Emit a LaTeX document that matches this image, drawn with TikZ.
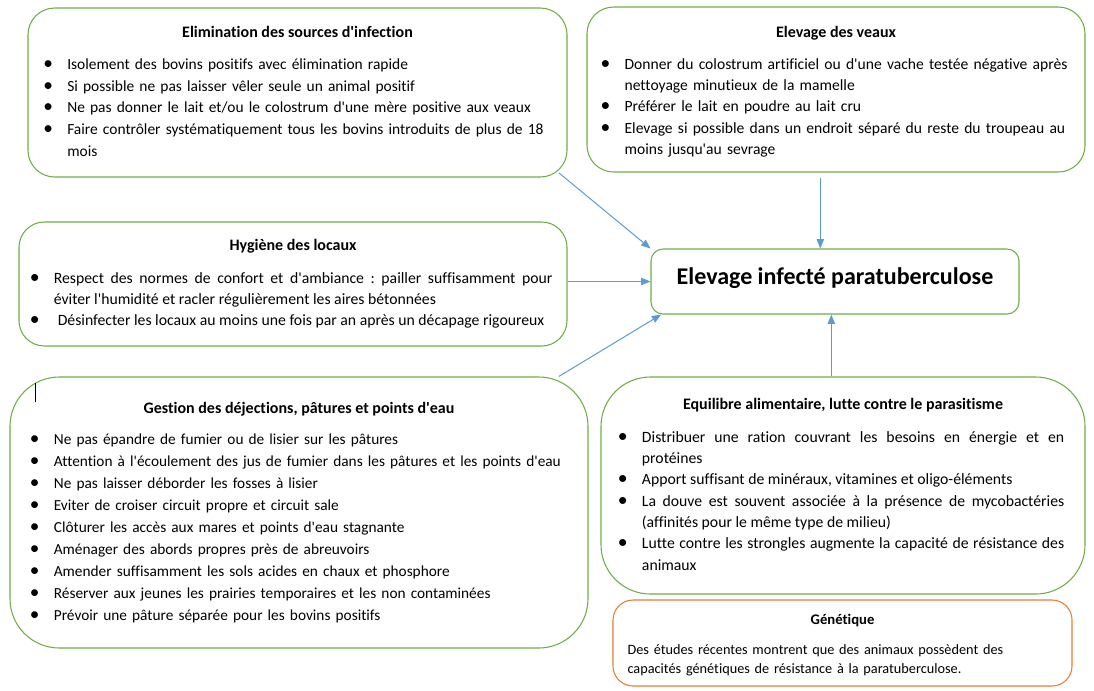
\documentclass[tikz,border=0pt]{standalone}
\usepackage{fontspec}
\setmainfont{Carlito}[Ligatures={TeXOff,CommonOff}]
\usepackage{tikz}
\usetikzlibrary{arrows.meta,calc,fit}
\definecolor{vert}{HTML}{70AD47}
\definecolor{bleu}{HTML}{5B9BD5}
\definecolor{orangeg}{HTML}{ED7D31}
\newcommand{\puce}[1]{\noindent\hangindent=18pt\hangafter=1\makebox[18pt][l]{\scalebox{1.25}{\textbullet}}\strut#1\par}
\tikzstyle{bloc}=[draw=vert, line width=0.8pt, inner sep=0pt, rounded corners=20pt]
\tikzstyle{titre}=[anchor=base, inner sep=0pt, font=\bfseries\fontsize{12}{14}\selectfont]
\tikzstyle{liste}=[anchor=north west, inner sep=0pt, align=left]
\tikzstyle{fleche}=[draw=bleu, line width=0.75pt, -{Triangle[length=7pt,width=5.5pt]}]

\begin{document}
\begin{tikzpicture}[x=0.75pt,y=-0.75pt]
\useasboundingbox (0,0) rectangle (1094,690);
% les cadres
\node[bloc, fit={(28,8) (567,177)}] (elim) {};
\node[bloc, fit={(587,7) (1085,172)}] (veaux) {};
\node[bloc, rounded corners=19pt, fit={(19,222) (567,346)}] (hygiene) {};
\node[bloc, rounded corners=9pt, fit={(651,249) (1019,314)}] (infecte) {};
\node[bloc, rounded corners=37pt, fit={(10,377) (588,648)}] (gestion) {};
\node[bloc, rounded corners=37pt, fit={(601,377) (1085,594)}] (equilibre) {};
\node[bloc, draw=orangeg, rounded corners=15pt, fit={(613,600) (1072,686)}] (genetique) {};

% titres
\node[titre] (t1) at (297.5,37) {Elimination des sources d'infection};
\node[titre] (t2) at (836,37) {Elevage des veaux};
\node[titre] (t3) at (293,250) {Hygiène des locaux};
\node[titre, font=\bfseries\fontsize{18}{21}\selectfont] (t4) at (835,284) {Elevage infecté paratuberculose};
\node[titre] (t5) at (299,413) {Gestion des déjections, pâtures et points d'eau};
\node[titre] (t6) at (843,409) {Equilibre alimentaire, lutte contre le parasitisme};
\node[titre, font=\bfseries\fontsize{11}{13}\selectfont] (t7) at (842.5,624) {Génétique};

% listes
\node[liste, text width=388pt, font={\fontsize{11.6}{16.3}\selectfont\frenchspacing}] (l1) at (43,53.8) {%
\puce{Isolement des bovins positifs avec élimination rapide}
\puce{Si possible ne pas laisser vêler seule un animal positif}
\puce{Ne pas donner le lait et/ou le colostrum d'une mère positive aux veaux}
\puce{Faire contrôler systématiquement tous les bovins introduits de plus de 18 \linebreak mois}};
\node[liste, text width=356pt, font={\fontsize{11.7}{15.94}\selectfont\frenchspacing}] (l2) at (600.3,54.1) {%
\puce{Donner du colostrum artificiel ou d'une vache testée négative après \linebreak nettoyage minutieux de la mamelle}
\puce{Préférer le lait en poudre au lait cru}
\puce{Elevage si possible dans un endroit séparé du reste du troupeau au \linebreak moins jusqu'au sevrage}};
\node[liste, align=justify, text width=392pt, font={\fontsize{11.8}{15.75}\selectfont\frenchspacing}] (l3) at (29.5,268.3) {%
\puce{Respect des normes de confort et d'ambiance : pailler suffisamment pour \linebreak éviter l'humidité et racler régulièrement les aires bétonnées}
\puce{\hspace{3pt}Désinfecter les locaux au moins une fois par an après un décapage rigoureux}};
\node[liste, text width=413pt, font={\fontsize{11.5}{16.5}\selectfont\frenchspacing}] (l5) at (29.6,428.6) {%
\puce{Ne pas épandre de fumier ou de lisier sur les pâtures}
\puce{Attention à l'écoulement des jus de fumier dans les pâtures et les points d'eau}
\puce{Ne pas laisser déborder les fosses à lisier}
\puce{Eviter de croiser circuit propre et circuit sale}
\puce{Clôturer les accès aux mares et points d'eau stagnante}
\puce{Aménager des abords propres près de abreuvoirs}
\puce{Amender suffisamment les sols acides en chaux et phosphore}
\puce{Réserver aux jeunes les prairies temporaires et les non contaminées}
\puce{Prévoir une pâture séparée pour les bovins positifs}};
\node[liste, align=justify, text width=334.7pt, font={\fontsize{11.8}{16}\selectfont\frenchspacing}] (l6) at (617.7,426.8) {%
\puce{Distribuer une ration couvrant les besoins en énergie et en \linebreak protéines}
\puce{Apport suffisant de minéraux, vitamines et oligo-éléments}
\puce{La douve est souvent associée à la présence de mycobactéries \linebreak (affinités pour le même type de milieu)}
\puce{Lutte contre les strongles augmente la capacité de résistance des \linebreak animaux}};
\node[liste, text width=328pt, font={\fontsize{10.7}{14.25}\selectfont}] (l7) at (627.3,640.7) {%
\strut Des études récentes montrent que des animaux possèdent des\\ capacités génétiques de résistance à la paratuberculose.};

% curseur
\draw[line width=0.75pt] (35.3,383) -- (35.3,402);

% fleches vers le cadre central
\coordinate (d1) at ($(elim.south east)+(-8.7,-4.7)$);
\coordinate (d2) at ($(veaux.south)+(-15.7,5)$);
\coordinate (d4) at ($(gestion.north east)+(-29.7,0)$);
\coordinate (d5) at ($(equilibre.north)+(-11.7,0)$);
\draw[fleche] (d1) -- (infecte.north west);
\draw[fleche] (d2) -- (d2 |- infecte.north);
\draw[fleche] (hygiene.east |- infecte.west) -- (infecte.west);
\draw[fleche] (d4) -- ($(infecte.south west)+(10.7,0)$);
\draw[fleche] (d5) -- (d5 |- infecte.south);
\end{tikzpicture}
\end{document}
